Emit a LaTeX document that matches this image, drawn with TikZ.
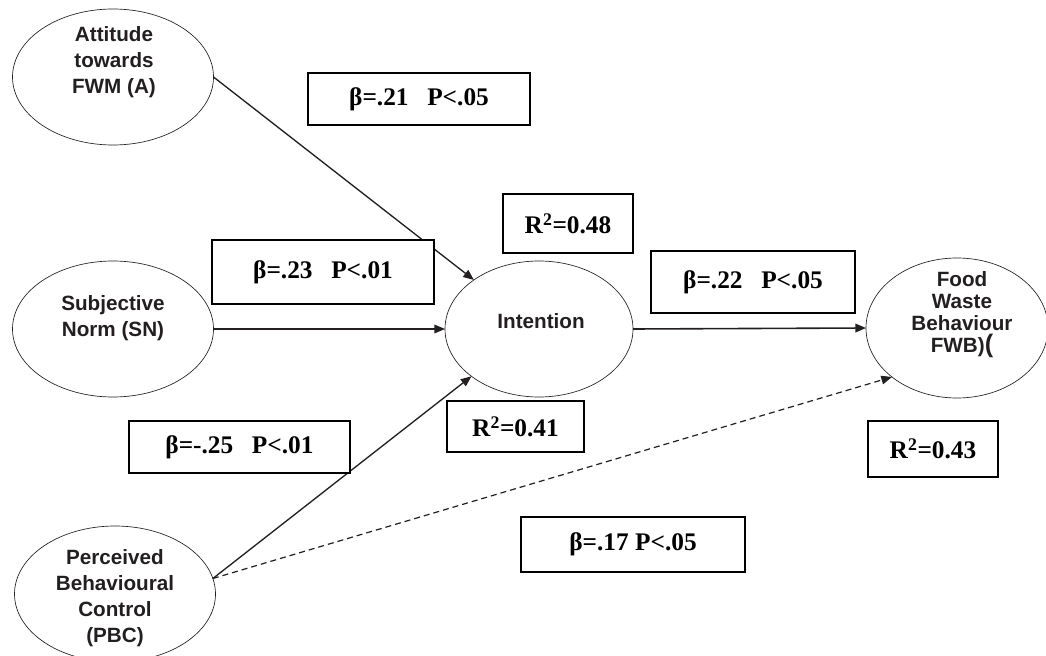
\documentclass[tikz,border=0pt]{standalone}
\usepackage{fontspec}
\setmainfont{Liberation Serif}
\newfontfamily\arialfont{Liberation Sans}
\usetikzlibrary{shapes.geometric,arrows.meta}
\definecolor{almost-black}{HTML}{231f20}

\begin{document}
\begin{tikzpicture}[
    x=0.75pt, y=-0.75pt,
    construct/.style={
        ellipse, draw=almost-black, line width=0.5pt,
        inner sep=0pt, outer sep=0pt,
        minimum width=150.75pt, minimum height=102pt,
    },
    vartext/.style={
        font=\arialfont\bfseries\fontsize{15.5}{19.5}\selectfont,
        align=center, text=almost-black,
    },
    coef/.style={
        draw=black, fill=white, line width=1.3pt, inner sep=0pt,
        font=\bfseries\fontsize{19}{21}\selectfont,
    },
    effect/.style={
        line width=1pt, draw=almost-black,
        -{Triangle[length=8pt,width=6.5pt]},
    },
]
\useasboundingbox (0,0) rectangle (1046,656);

% constructs
\node[construct] (att) at (113,77) {};
\node[vartext] (att-t) at (114,62) {Attitude\\towards\\FWM (A)};
\node[construct] (sn) at (113,329) {};
\node[vartext] (sn-t) at (113,318) {Subjective\\Norm (SN)};
\node[construct] (pbc) at (115,594) {};
\node[vartext] (pbc-t) at (115,598) {Perceived\\Behavioural\\Control\\(PBC)};
\node[construct, minimum width=141pt] (int) at (539,329) {};
\node[vartext] (int-t) at (541,321) {Intention};
\node[construct, minimum width=136.5pt, minimum height=105pt] (fwb) at (957,328) {};
\node[vartext, font=\arialfont\bfseries\fontsize{15.5}{16.5}\selectfont] (fwb-t) at (962,315)
    {Food\\Waste\\Behaviour\\FWB){\fontsize{19}{16.5}\selectfont(}};

% paths
\draw[effect] (att.east) -- (int.143);
\draw[effect] (sn.east) -- (int.west);
\draw[effect] (pbc.9) -- (int.215);
\draw[effect, line width=0.9pt, dash pattern=on 4.5pt off 3pt] (pbc.9) -- (fwb.217);
\draw[effect, line width=1.2pt] (int.east) -- (fwb.west);

% coefficients
\node[coef, minimum width=166.5pt, minimum height=39pt] (b-att) at (419,99) {β=.21\hspace{14pt}P<.05};
\node[coef, minimum width=166.5pt, minimum height=48pt] (b-sn) at (323,272) {β=.23\hspace{14pt}P<.01};
\node[coef, minimum width=165.75pt, minimum height=39pt] (b-pbc) at (239.5,447) {β=-.25\hspace{14pt}P<.01};
\node[coef, minimum width=153pt, minimum height=46.5pt] (b-int) at (753,282) {β=.22\hspace{14pt}P<.05};
\node[coef, minimum width=168pt, minimum height=41.25pt] (b-dir) at (633,544.5) {β=.17 P<.05};
\node[coef, minimum width=97.5pt, minimum height=44.25pt] (r-top) at (568,223.5) {R\textsuperscript{2}=0.48};
\node[coef, minimum width=102.75pt, minimum height=38.25pt] (r-int) at (515.5,426.5) {R\textsuperscript{2}=0.41};
\node[coef, minimum width=97.5pt, minimum height=42pt] (r-fwb) at (933,449) {R\textsuperscript{2}=0.43};
\end{tikzpicture}
\end{document}
